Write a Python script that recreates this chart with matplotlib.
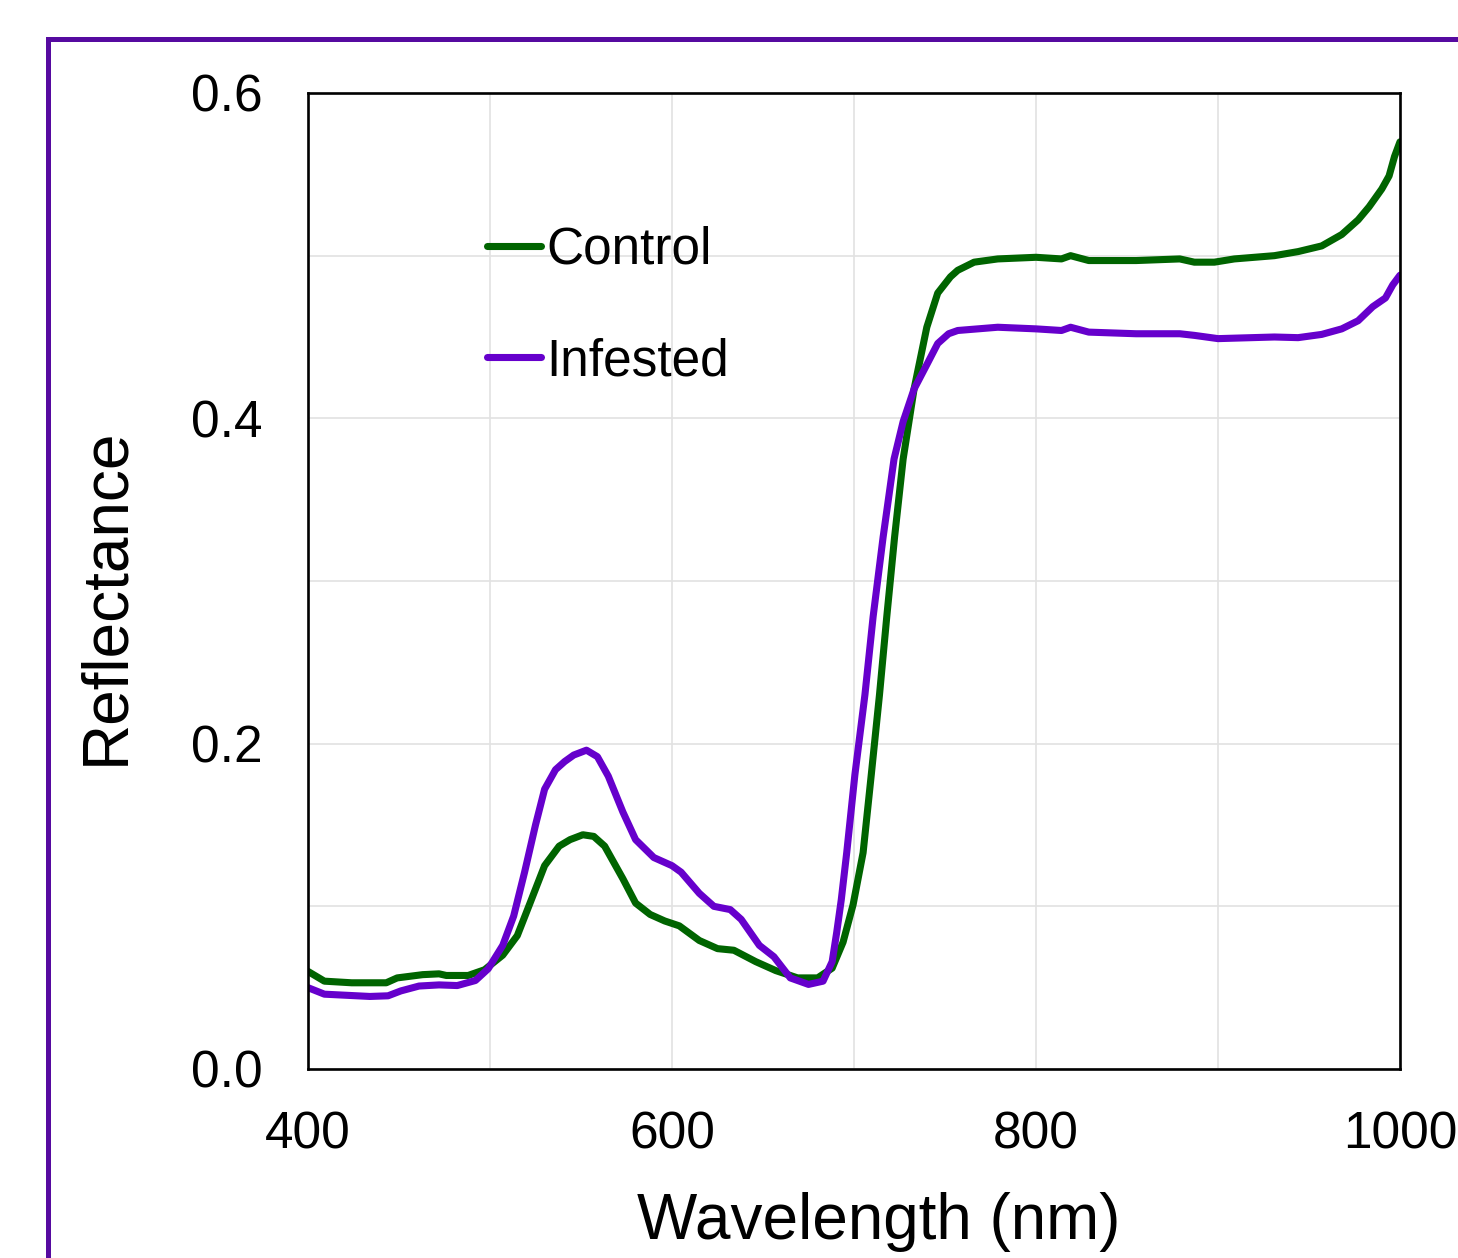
import matplotlib
matplotlib.use("Agg")
from matplotlib import pyplot as plt
from matplotlib.lines import Line2D
from matplotlib.ticker import MultipleLocator

plt.rcParams['font.family'] = ['Liberation Sans', 'DejaVu Sans']

# values
control_nm = [400, 409, 424, 443, 449, 463, 472, 476, 488, 497, 507, 515, 522, 530, 538,
              544, 551, 557, 563, 573, 580, 588, 596, 604, 615, 625, 634, 646, 657, 669, 680,
              688, 694, 699.5, 705, 709.5, 714, 718, 722.3, 727, 733, 740, 746, 753, 757,
              766, 779, 800, 814, 819, 829, 855, 879, 887, 898, 909, 931, 944, 957, 968,
              977, 983, 990, 994, 997, 1000]
control_refl = [0.060, 0.054, 0.053, 0.053, 0.056, 0.058, 0.0585, 0.0575, 0.0575, 0.061,
                0.070, 0.082, 0.102, 0.125, 0.137, 0.141, 0.144, 0.143, 0.137, 0.117, 0.102,
                0.095, 0.091, 0.088, 0.079, 0.074, 0.073, 0.066, 0.0605, 0.056, 0.056,
                0.062, 0.078, 0.101, 0.133, 0.181, 0.230, 0.278, 0.327, 0.375, 0.418,
                0.456, 0.477, 0.487, 0.491, 0.496, 0.498, 0.499, 0.498, 0.500, 0.497,
                0.497, 0.498, 0.496, 0.496, 0.498, 0.500, 0.5025, 0.506, 0.513, 0.522,
                0.530, 0.541, 0.549, 0.561, 0.570]

infested_nm = [400, 409, 434, 444, 451, 461, 472, 482, 492, 499, 507, 513, 519, 525, 530,
               536, 541, 546, 553, 559, 565, 573, 580, 590, 600, 605, 615, 623, 632, 638, 648,
               656, 665, 675, 683, 688, 690.5, 693, 696, 700.5, 706, 710.5, 716, 722, 727,
               733, 740, 746, 752, 757, 768, 779, 800, 814, 819, 829, 855, 879, 887, 900, 931,
               944, 957, 968, 977, 985, 992, 996, 1000]
infested_refl = [0.050, 0.046, 0.0446, 0.045, 0.048, 0.051, 0.0517, 0.0513, 0.0544, 0.0616,
                 0.076, 0.094, 0.121, 0.150, 0.172, 0.184, 0.189, 0.193, 0.196, 0.192, 0.180,
                 0.158, 0.141, 0.130, 0.125, 0.121, 0.108, 0.100, 0.098, 0.092, 0.076,
                 0.069, 0.056, 0.052, 0.054, 0.066, 0.084, 0.104, 0.133, 0.181, 0.230,
                 0.278, 0.327, 0.375, 0.398, 0.418, 0.433, 0.446, 0.452, 0.454, 0.455, 0.456,
                 0.455, 0.454, 0.456, 0.453, 0.452, 0.452, 0.451, 0.449, 0.450, 0.4496,
                 0.4516, 0.455, 0.460, 0.4686, 0.474, 0.482, 0.488]

W, H = 1458, 1258
fig = plt.figure(figsize=(W / 100, H / 100), dpi=100)
ax = fig.add_axes([308 / W, 1 - 1069 / H, 1092 / W, 976 / H])

ax.plot(control_nm, control_refl, color='#006400', lw=5.1, label='Control',
        solid_capstyle='round', solid_joinstyle='round')
ax.plot(infested_nm, infested_refl, color='#6600cc', lw=5.1, label='Infested',
        solid_capstyle='round', solid_joinstyle='round')

ax.set_xlim(400, 1000)
ax.set_ylim(0, 0.6)
ax.xaxis.set_major_locator(MultipleLocator(200))
ax.xaxis.set_minor_locator(MultipleLocator(100))
ax.yaxis.set_major_locator(MultipleLocator(0.2))
ax.yaxis.set_minor_locator(MultipleLocator(0.1))
ax.yaxis.set_major_formatter(matplotlib.ticker.FormatStrFormatter('%.1f'))
ax.grid(which='both', color='#e2e2e2', lw=1.2)
ax.set_axisbelow(True)
ax.tick_params(which='both', length=0, labelsize=37)
ax.tick_params(axis='x', pad=30)
ax.tick_params(axis='y', pad=33)
for s in ax.spines.values():
    s.set_linewidth(1.9)
    s.set_color('black')

ax.set_xlabel('Wavelength (nm)', fontsize=46)
ax.set_ylabel('Reflectance', fontsize=46)
ax.xaxis.set_label_coords(0.5224, -0.126)
ax.yaxis.set_label_coords(-0.157, 0.4846)

ax.legend(loc='upper left', bbox_to_anchor=(0.164, 0.864), frameon=False, fontsize=37,
          handlelength=1.05, handletextpad=0.1, labelspacing=1.22,
          borderpad=0, borderaxespad=0)

# purple frame around the panel (cut off at right and bottom)
frame = Line2D([48 / W, 48 / W, 1.01], [-0.01, 1 - 39 / H, 1 - 39 / H],
               transform=fig.transFigure, color='#560aa0', lw=3.6,
               solid_joinstyle='miter')
fig.add_artist(frame)

fig.savefig('out.png', dpi=100)
